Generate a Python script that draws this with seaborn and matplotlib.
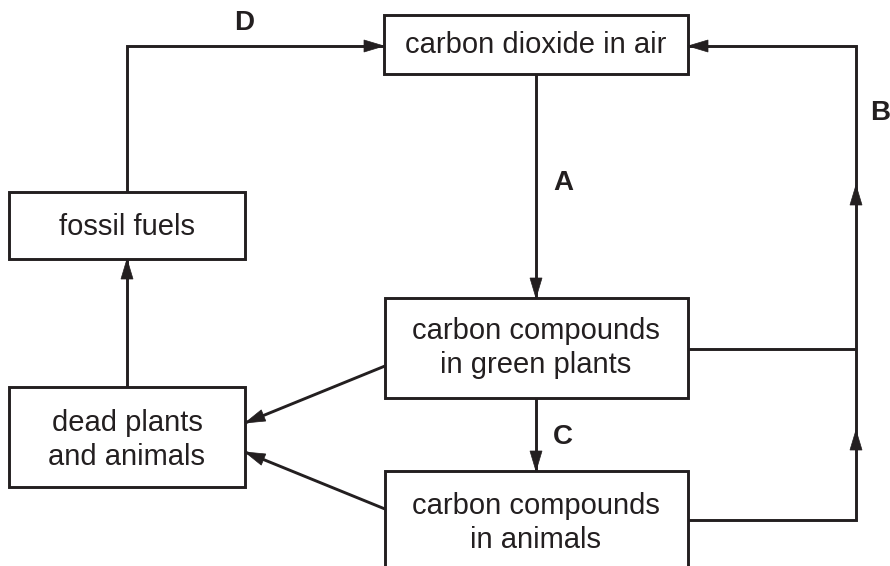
import matplotlib
matplotlib.use("Agg")
import matplotlib.pyplot as plt
from matplotlib.patches import Rectangle, Polygon
import seaborn as sns
import numpy as np

# ---- content ----
node_names = ["air", "plants", "animals", "fossil", "dead"]
node_labels = ["carbon dioxide in air",
               "carbon compounds\nin green plants",
               "carbon compounds\nin animals",
               "fossil fuels",
               "dead plants\nand animals"]
process_labels = ["A", "B", "C", "D"]

# ---- layout (pixel coordinates, y downwards) ----
boxes = {  # x0, y0, x1, y1
    "air": (384, 15, 688, 74),
    "plants": (385, 298, 688, 398),
    "animals": (385, 471, 688, 600),
    "fossil": (9, 192, 245, 259),
    "dead": (9, 387, 245, 487),
}
text_pos = {
    "air": (536, 45),
    "plants": (536, 348),
    "animals": (536, 523),
    "fossil": (127, 227),
    "dead": (127, 440),
}
label_pos = {"A": (563, 183), "B": (880, 113), "C": (563, 437), "D": (244, 23)}

INK = "#231f20"
LW = 2.1

sns.set_style("white")
plt.rcParams["font.family"] = ["Liberation Sans", "DejaVu Sans"]

fig = plt.figure(figsize=(8.9, 5.66), dpi=100)
ax = fig.add_axes([0, 0, 1, 1])
ax.set_xlim(0, 890)
ax.set_ylim(566, 0)
ax.axis("off")


def head(ax, tip, frm, length=20, width=12):
    tip = np.asarray(tip, float)
    frm = np.asarray(frm, float)
    d = tip - frm
    d /= np.hypot(*d)
    n = np.array([-d[1], d[0]])
    base = tip - d * length
    tri = [tip, base + n * width / 2, base - n * width / 2]
    ax.add_patch(Polygon(tri, closed=True, facecolor=INK, edgecolor=INK,
                         lw=0.5, zorder=4))


def line(ax, pts):
    pts = np.asarray(pts, float)
    ax.plot(pts[:, 0], pts[:, 1], color=INK, lw=LW, solid_capstyle="butt",
            solid_joinstyle="miter", zorder=3)


for name, lab in zip(node_names, node_labels):
    x0, y0, x1, y1 = boxes[name]
    ax.add_patch(Rectangle((x0, y0), x1 - x0, y1 - y0, facecolor="white",
                           edgecolor=INK, lw=LW, zorder=2))
    tx, ty = text_pos[name]
    ax.text(tx, ty, lab, ha="center", va="center", fontsize=21,
            color=INK, linespacing=1.3, zorder=5)

# A: air -> plants
line(ax, [(536, 74), (536, 298)])
head(ax, (536, 298), (536, 74))
# C: plants -> animals
line(ax, [(536, 398), (536, 471)])
head(ax, (536, 471), (536, 398))
# B: plants/animals -> air
line(ax, [(688, 349), (856, 349)])
line(ax, [(688, 520), (856, 520), (856, 46), (688, 46)])
head(ax, (688, 46), (856, 46))
head(ax, (856, 185), (856, 300))
head(ax, (856, 430), (856, 520))
# D: fossil -> air
line(ax, [(127, 192), (127, 46), (384, 46)])
head(ax, (384, 46), (127, 46))
# dead -> fossil
line(ax, [(127, 387), (127, 259)])
head(ax, (127, 259), (127, 387))
# plants -> dead, animals -> dead
line(ax, [(385, 366), (245, 423)])
head(ax, (245, 423), (385, 366))
line(ax, [(385, 509), (245, 452)])
head(ax, (245, 452), (385, 509))

for lab in process_labels:
    x, y = label_pos[lab]
    ax.text(x, y, lab, ha="center", va="center", fontsize=20,
            fontweight="bold", color=INK, zorder=5)

fig.savefig("out.png", dpi=100, facecolor="white")
